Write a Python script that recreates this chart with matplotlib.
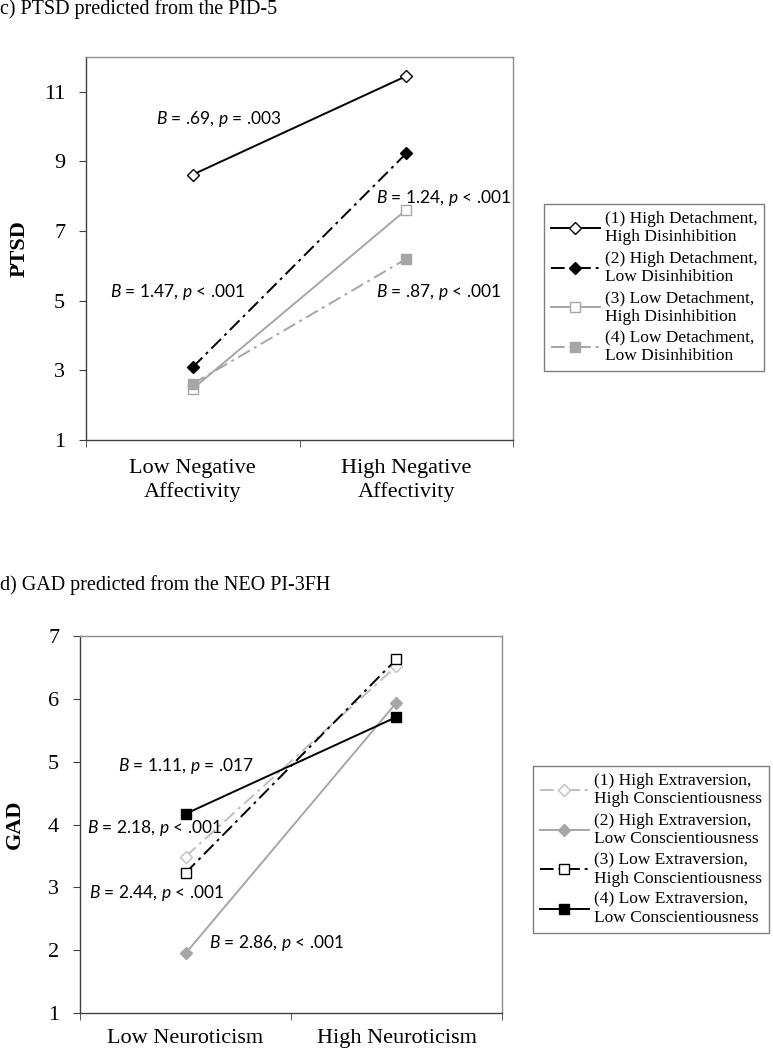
import matplotlib
matplotlib.use("Agg")
import matplotlib.pyplot as plt

plt.rcParams["font.family"] = ["Liberation Serif", "DejaVu Serif"]
plt.rcParams["mathtext.fontset"] = "custom"
plt.rcParams["mathtext.rm"] = "Lato"
plt.rcParams["mathtext.it"] = "Lato:italic"

# panel c) PTSD predicted from the PID-5
ptsd_cats = ["Low Negative\nAffectivity", "High Negative\nAffectivity"]
ptsd_labels = [
    "(1) High Detachment,\nHigh Disinhibition",
    "(2) High Detachment,\nLow Disinhibition",
    "(3) Low Detachment,\nHigh Disinhibition",
    "(4) Low Detachment,\nLow Disinhibition",
]
ptsd_s1 = [8.62, 11.45]
ptsd_s2 = [3.09, 9.23]
ptsd_s3 = [2.47, 7.61]
ptsd_s4 = [2.61, 6.20]
ptsd_notes = [
    ("$\\it{B}$ = .69, $\\it{p}$ = .003", -0.17, 10.23),
    ("$\\it{B}$ = 1.24, $\\it{p}$ < .001", 0.86, 7.96),
    ("$\\it{B}$ = 1.47, $\\it{p}$ < .001", -0.39, 5.26),
    ("$\\it{B}$ = .87, $\\it{p}$ < .001", 0.86, 5.26),
]

# panel d) GAD predicted from the NEO PI-3FH
gad_cats = ["Low Neuroticism", "High Neuroticism"]
gad_labels = [
    "(1) High Extraversion,\nHigh Conscientiousness",
    "(2) High Extraversion,\nLow Conscientiousness",
    "(3) Low Extraversion,\nHigh Conscientiousness",
    "(4) Low Extraversion,\nLow Conscientiousness",
]
gad_s1 = [3.49, 6.52]
gad_s2 = [1.95, 5.94]
gad_s3 = [3.23, 6.63]
gad_s4 = [4.17, 5.71]
gad_notes = [
    ("$\\it{B}$ = 1.11, $\\it{p}$ = .017", -0.32, 4.93),
    ("$\\it{B}$ = 2.18, $\\it{p}$ < .001", -0.465, 3.94),
    ("$\\it{B}$ = 2.44, $\\it{p}$ < .001", -0.456, 2.91),
    ("$\\it{B}$ = 2.86, $\\it{p}$ < .001", 0.11, 2.12),
]

DASHDOT = (0, (7, 2.5, 1.5, 2.5))
GREY = "#a6a6a6"
LIGHT = "#bfbfbf"


def style_axes(ax, cats, yticks, ylim, ylabel, ylab_x, xpad):
    ax.set_xlim(-0.5, 1.5)
    ax.set_ylim(*ylim)
    ax.set_yticks(yticks)
    ax.set_xticks([0, 1])
    ax.set_xticklabels(cats, fontsize=16, linespacing=1.25)
    ax.set_xticks([-0.5, 0.5, 1.5], minor=True)
    ax.tick_params(axis="x", which="major", length=0, pad=xpad)
    ax.tick_params(axis="x", which="minor", length=5, direction="out", color="#404040")
    ax.tick_params(axis="y", length=5, direction="out", pad=10, labelsize=16, color="#404040")
    for side in ("top", "right"):
        ax.spines[side].set_color("#8c8c8c")
    for side in ("left", "bottom"):
        ax.spines[side].set_color("#404040")
    for s in ax.spines.values():
        s.set_linewidth(1.0)
    ax.set_ylabel(ylabel, fontsize=16, fontweight="bold")
    ax.yaxis.set_label_coords(ylab_x, 0.5)


def add_notes(ax, notes):
    for txt, x, y in notes:
        ax.text(x, y, txt, family="Lato", fontsize=12.5, ha="left", va="center")


def style_legend(leg):
    leg.get_frame().set_linewidth(1.0)
    for t in leg.get_texts():
        t.set_linespacing(1.2)


leg_kw = dict(loc="upper left", borderaxespad=0, fontsize=12.5, handlelength=2.8,
              handletextpad=0.3, labelspacing=0.3, borderpad=0.4, fancybox=False,
              edgecolor="#7f7f7f", framealpha=1)

fig = plt.figure(figsize=(7.73, 10.5), dpi=100)

# top panel
ax1 = fig.add_axes([0.1113, 0.5810, 0.5524, 0.3648])
x = [0, 1]
ax1.plot(x, ptsd_s1, color="black", lw=1.4, marker="D", ms=6, mfc="white", mec="black", label=ptsd_labels[0])
ax1.plot(x, ptsd_s2, color="black", lw=1.4, ls=DASHDOT, marker="D", ms=6, mfc="black", mec="black", label=ptsd_labels[1])
ax1.plot(x, ptsd_s3, color=GREY, lw=1.4, marker="s", ms=7, mfc="white", mec=GREY, label=ptsd_labels[2])
ax1.plot(x, ptsd_s4, color=GREY, lw=1.4, ls=DASHDOT, marker="s", ms=7, mfc=GREY, mec=GREY, label=ptsd_labels[3])
style_axes(ax1, ptsd_cats, [1, 3, 5, 7, 9, 11], (1, 12), "PTSD", -0.131, 14)
add_notes(ax1, ptsd_notes)
leg1 = ax1.legend(bbox_to_anchor=(0.7038, 0.8057), bbox_transform=fig.transFigure, **leg_kw)
style_legend(leg1)

fig.text(0.0, 1 - 9 / 1050, "c) PTSD predicted from the PID-5", fontsize=14.5, ha="left", va="center")

# bottom panel
ax2 = fig.add_axes([0.1035, 0.0350, 0.5459, 0.3594])
ax2.plot(x, gad_s1, color=LIGHT, lw=1.4, ls=DASHDOT, marker="D", ms=6, mfc="white", mec=LIGHT, label=gad_labels[0])
ax2.plot(x, gad_s2, color=GREY, lw=1.4, marker="D", ms=6, mfc=GREY, mec=GREY, label=gad_labels[1])
ax2.plot(x, gad_s3, color="black", lw=1.4, ls=DASHDOT, marker="s", ms=7, mfc="white", mec="black", label=gad_labels[2])
ax2.plot(x, gad_s4, color="black", lw=1.4, marker="s", ms=7, mfc="black", mec="black", label=gad_labels[3])
style_axes(ax2, gad_cats, [1, 2, 3, 4, 5, 6, 7], (1, 7), "GAD", -0.13, 11)
add_notes(ax2, gad_notes)
leg2 = ax2.legend(bbox_to_anchor=(0.6895, 0.2705), bbox_transform=fig.transFigure, **leg_kw)
style_legend(leg2)

fig.text(0.0, 1 - 585 / 1050, "d) GAD predicted from the NEO PI-3FH", fontsize=14.5, ha="left", va="center")

fig.savefig("out.png", dpi=100)
plt.close(fig)
